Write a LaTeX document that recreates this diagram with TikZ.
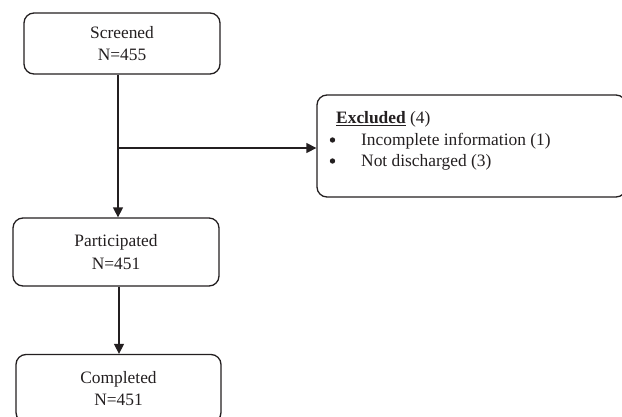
\documentclass[tikz,border=0pt]{standalone}
\usepackage{fontspec}
\setmainfont{Liberation Serif}
\usetikzlibrary{arrows.meta}
\definecolor{ink}{HTML}{231F20}
\begin{document}
\begin{tikzpicture}[x=1pt,y=-1pt,
  box/.style={draw=ink, line width=1.3pt, rounded corners=10pt, align=center,
    inner sep=0pt, font=\fontsize{17.4}{22.5}\selectfont, text=ink},
  txt/.style={anchor=base west, inner sep=0pt, font=\fontsize{17.4}{21}\selectfont, text=ink},
  dot/.style={circle, fill=ink, inner sep=0pt, minimum size=5.4pt},
  arr/.style={draw=ink, line width=1.3pt, -{Triangle[length=10pt,width=10pt]}}]
\useasboundingbox (0,0) rectangle (622,416);
\node[box, minimum width=196pt, minimum height=61pt] (scr) at (122,43.5) {Screened\\N=455};
\node[box, minimum width=206pt, minimum height=68pt] (par) at (116,252) {Participated\\N=451};
\node[box, minimum width=205pt, minimum height=68pt] (com) at (118.5,388.5) {Completed\\N=451};
\node[box, minimum width=309pt, minimum height=102pt] (exc) at (471.5,146) {};
\node[txt] (t1) at (336,123.5) {\textbf{\underline{Excluded}} (4)};
\node[dot] (b1) at (332.5,140) {};
\node[txt] (i1) at (361,145.5) {Incomplete information (1)};
\node[dot] (b2) at (332.5,161) {};
\node[txt] (i2) at (361,166.5) {Not discharged (3)};
\coordinate (br) at (118,148);
\draw[arr] (br |- scr.south) -- (br |- par.north);
\draw[arr] (br) -- (br -| exc.west);
\coordinate (tr) at (119,0);
\draw[arr] (tr |- par.south) -- (tr |- com.north);
\end{tikzpicture}
\end{document}
